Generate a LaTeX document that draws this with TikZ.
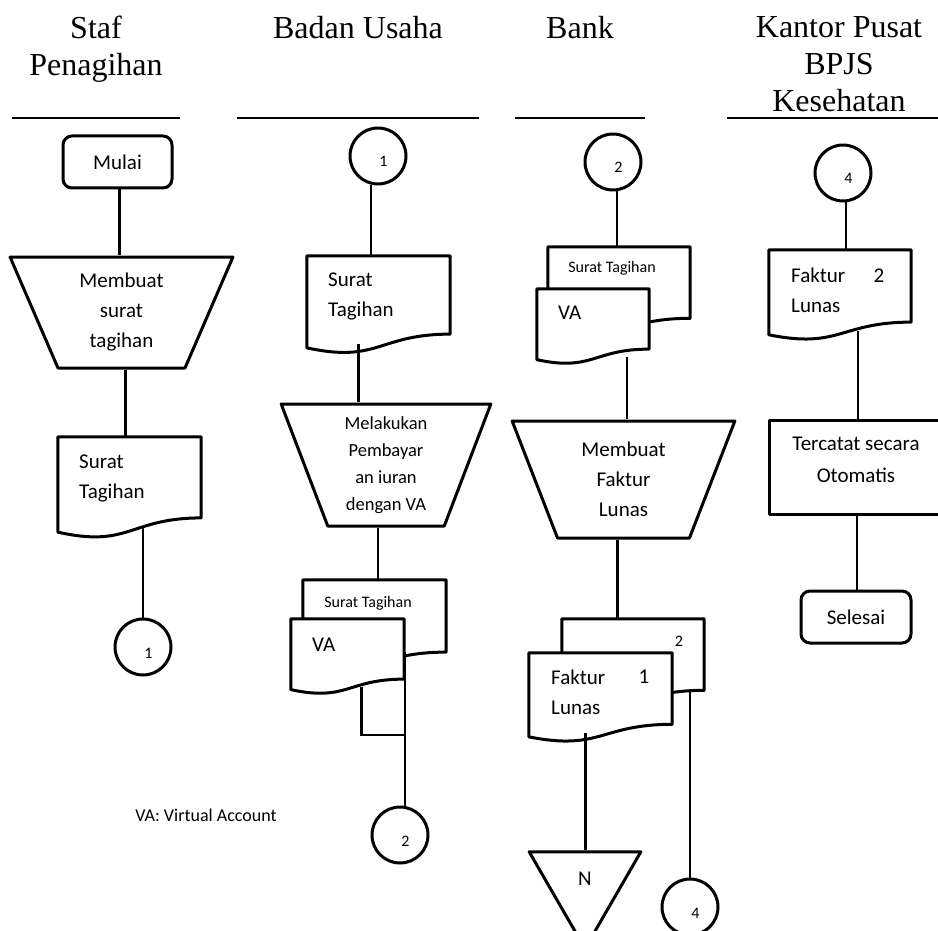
\documentclass[tikz,border=0pt]{standalone}
\usepackage{fontspec}
\setmainfont{Carlito}
\newfontfamily\headfont{Liberation Serif}
\usetikzlibrary{positioning,shapes.geometric,calc}

% document symbol drawn round an empty named box
\newcommand{\docoutline}[1]{%
  \draw[shapeline, fill=white] (#1.north west) -- (#1.north east)
    -- ($(#1.north east)!0.8!(#1.south east)$) coordinate (#1-r)
    .. controls ($(#1.north)!0.8!(#1.south)$) and ($(#1.north)!1.1!(#1.south)$)
    .. ($(#1.north west)!0.94!(#1.south west)$) -- cycle;
  \coordinate (#1-b) at ($(#1.north)!0.9!(#1.south)$);}

\begin{document}
\begin{tikzpicture}[x=1pt, y=-1pt,
  shapeline/.style={line width=3pt, line join=round},
  link/.style={line width=2.2pt},
  lane/.style={line width=1.5pt},
  head/.style={font=\headfont\fontsize{32}{37}\selectfont, align=center, inner sep=0pt, anchor=north},
  body/.style={font=\fontsize{21}{30}\selectfont},
  smalltext/.style={font=\fontsize{16}{18}\selectfont, inner sep=0pt},
  termbox/.style={shapeline, draw, rounded corners=9pt, minimum width=109pt, minimum height=52pt, body},
  manop/.style={shapeline, draw, trapezium, shape border rotate=180, trapezium stretches=true, align=center, body},
  docbox/.style={rectangle, inner sep=0pt},
  doctext/.style={body, align=left, inner sep=0pt, anchor=west},
  joint/.style={shapeline, draw, circle, minimum size=56pt, inner sep=0pt, font=\fontsize{16}{16}\selectfont, text height=22pt, execute at begin node={\hspace*{11pt}}}]
\useasboundingbox (0,0) rectangle (938,931);

% lanes
\node[head] (hStaf) at (96,16) {Staf\\Penagihan};
\node[head] (hBadan) at (358,16) {Badan Usaha};
\node[head] (hBank) at (580,16) {Bank};
\node[head] (hKantor) at (839,16) {Kantor Pusat\\BPJS\\Kesehatan};
\draw[lane] (12,118) -- (180,118);
\draw[lane] (237,118) -- (479,118);
\draw[lane] (515,118) -- (645,118);
\draw[lane] (727,118) -- (938,118);

% Staf Penagihan
\node[termbox] (mulai) at (117.5,162) {Mulai};
\node[manop, minimum width=223pt, minimum height=111pt, trapezium left angle=68, trapezium right angle=68] (stTrap) at (121.5,312.5) {Membuat\\surat\\tagihan};
\node[docbox, minimum width=143pt, minimum height=101pt] (stDoc) at (129.5,487.5) {};
\docoutline{stDoc}
\node[doctext] (stDocT) at (79,478) {Surat\\Tagihan};
\node[joint] (stC1) at (143,647) {1};
\node[font=\fontsize{18}{22}\selectfont, inner sep=0pt] (note) at (206,815) {VA: Virtual Account};
\draw[link] ([xshift=2pt]mulai.south) -- ([xshift=2pt]mulai.south |- stTrap.north);
\draw[link] ([xshift=4pt]stTrap.south) -- ([xshift=4pt]stTrap.south |- stDoc.north);
\draw[link] (stC1.north) -- (stC1.north |- stDoc-b);

% Badan Usaha
\node[joint] (buC1) at (378,156) {1};
\node[docbox, minimum width=143pt, minimum height=97.5pt] (buDoc) at (378.5,304.75) {};
\docoutline{buDoc}
\node[doctext] (buDocT) at (328,296) {Surat\\Tagihan};
\node[manop, minimum width=210pt, minimum height=122pt, trapezium left angle=71, trapezium right angle=71, font=\fontsize{18.5}{27}\selectfont] (buTrap) at (386,465) {Melakukan\\Pembayar\\an iuran\\dengan VA};
\node[docbox, minimum width=143pt, minimum height=90pt] (buBack) at (374.5,625) {};
\docoutline{buBack}
\node[smalltext] (buBackT) at (368,603) {Surat Tagihan};
\node[docbox, minimum width=113pt, minimum height=75pt] (buFront) at (347.5,656.5) {};
\docoutline{buFront}
\node[doctext] (buFrontT) at (312,645) {VA};
\node[joint] (buC2) at (400,835) {2};
\coordinate (buJoin) at (405,735);
\draw[link] ([xshift=-7pt]buC1.south) -- ([xshift=-7pt]buC1.south |- buDoc.north);
\draw[link] ([xshift=-20pt]buDoc-b) -- ([xshift=-20pt]buDoc-b |- buTrap.north);
\draw[link] ([xshift=-8pt]buTrap.south) -- ([xshift=-8pt]buTrap.south |- buBack.north);
\draw[link] ([xshift=5pt]buC2.north) -- ([xshift=5pt]buC2.north |- buBack-r);
\draw[link] ([xshift=14pt]buFront-b) |- (buJoin);

% Bank
\node[joint] (bkC2) at (613,162) {2};
\node[docbox, minimum width=142pt, minimum height=89pt] (bkBack) at (619,291.5) {};
\docoutline{bkBack}
\node[smalltext] (bkBackT) at (612,268) {Surat Tagihan};
\node[docbox, minimum width=112pt, minimum height=75pt] (bkFront) at (593,326.5) {};
\docoutline{bkFront}
\node[doctext] (bkFrontT) at (558,313) {VA};
\node[manop, minimum width=223pt, minimum height=117pt, trapezium left angle=69, trapezium right angle=69] (bkTrap) at (623.5,479.5) {Membuat\\Faktur\\Lunas};
\node[docbox, minimum width=142pt, minimum height=89pt] (bkBack2) at (633,663.5) {};
\docoutline{bkBack2}
\node[smalltext] (bkBack2T) at (679,641) {2};
\node[docbox, minimum width=143pt, minimum height=89pt] (bkFront2) at (600.5,697.5) {};
\docoutline{bkFront2}
\node[doctext] (bkFront2T) at (551,692) {Faktur\\Lunas};
\node[body, inner sep=0pt] (bkFront2N) at (644,677) {1};
\node[shapeline, draw, regular polygon, regular polygon sides=3, shape border rotate=180, minimum size=129pt, inner sep=0pt, body, text depth=10pt] (bkMerge) at (585,884) {N};
\node[joint] (bkC4) at (690,907) {4};
\draw[link] ([xshift=4pt]bkC2.south) -- ([xshift=4pt]bkC2.south |- bkBack.north);
\draw[link] ([xshift=34pt]bkFront-b) -- ([xshift=34pt]bkFront-b |- bkTrap.north);
\draw[link] ([xshift=-6pt]bkTrap.south) -- ([xshift=-6pt]bkTrap.south |- bkBack2.north);
\draw[link] ([xshift=-15pt]bkFront2-b) -- ([xshift=-15pt]bkFront2-b |- bkMerge.north);
\draw[link] (bkC4.north) -- (bkC4.north |- bkBack2-r);

% Kantor Pusat BPJS Kesehatan
\node[joint] (kpC4) at (843,173) {4};
\node[docbox, minimum width=142pt, minimum height=90pt] (kpDoc) at (840,295) {};
\docoutline{kpDoc}
\node[doctext] (kpDocT) at (791,290) {Faktur\\Lunas};
\node[body, inner sep=0pt] (kpDocN) at (879,276) {2};
\node[shapeline, draw, minimum width=176pt, minimum height=94pt] (kpRec) at (857,467) {};
\node[body, align=center, inner sep=0pt, font=\fontsize{21}{32}\selectfont] (kpRecT) at (856,460) {Tercatat secara\\Otomatis};
\node[termbox, minimum width=110pt] (selesai) at (856,617) {Selesai};
\draw[link] ([xshift=3pt]kpC4.south) -- ([xshift=3pt]kpC4.south |- kpDoc.north);
\draw[link] ([xshift=18pt]kpDoc-b) -- ([xshift=18pt]kpDoc-b |- kpRec.north);
\draw[link] (kpRec.south) -- (kpRec.south |- selesai.north);
\end{tikzpicture}
\end{document}
